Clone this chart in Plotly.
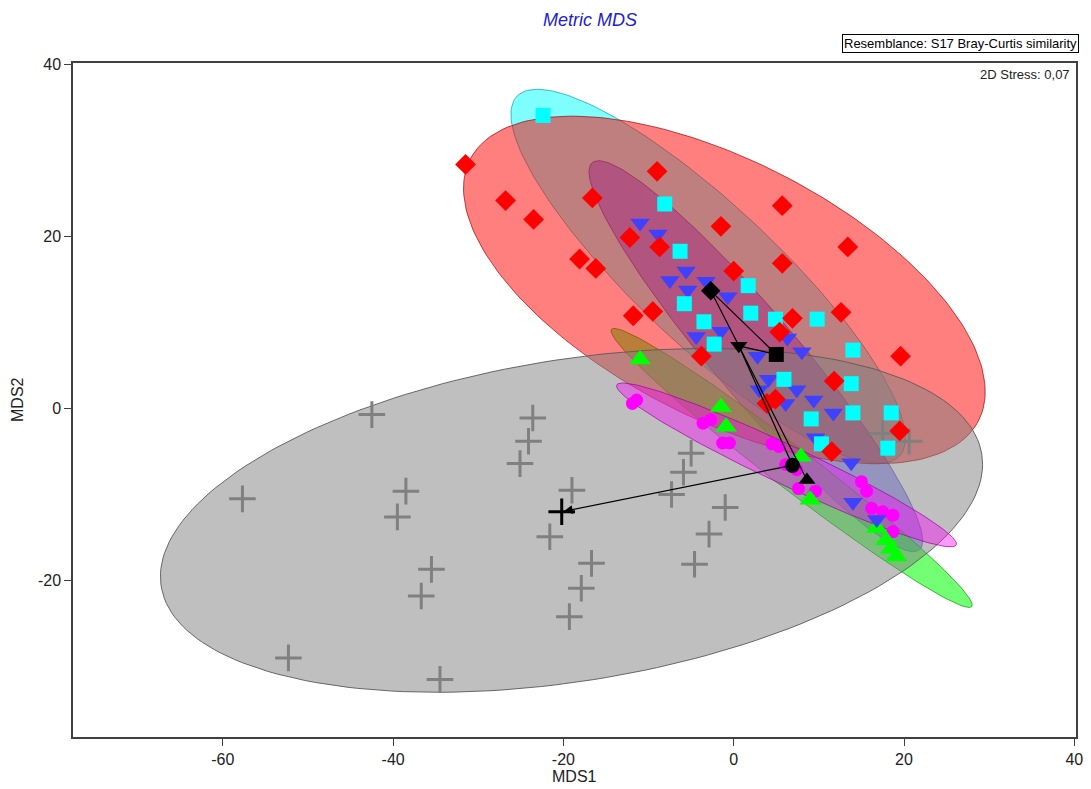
import numpy as np
import plotly.graph_objects as go

# ---------------- data ----------------
gray_x = [-42.5, -57.7, -38.5, -39.5, -23.6, -24.1, -25.1, -19.0, -21.6, -16.7, -17.9, -19.3,
          -35.5, -36.7, -52.3, -34.5, -5.0, -5.9, -7.3, -1.0, -2.9, -4.6, 17.5, 20.6]
gray_y = [-0.7, -10.5, -9.6, -12.6, -1.1, -3.8, -6.4, -9.5, -14.9, -18.0, -20.9, -24.2,
          -18.7, -21.8, -29.0, -31.5, -5.2, -7.4, -10.0, -11.5, -14.6, -18.1, -2.9, -3.8]

red_x = [-31.5, -26.8, -23.5, -9.0, -16.6, 5.7, -1.5, -12.2, -8.7, 13.4, -18.1, -16.2, 5.7,
         0.0, -11.8, -9.5, 12.6, 6.9, 5.4, -3.8, 19.6, 11.8, 4.9, 3.9, 11.5, 19.5]
red_y = [28.4, 24.2, 22.0, 27.6, 24.5, 23.6, 21.2, 19.9, 18.8, 18.8, 17.4, 16.3, 16.9,
         16.0, 10.8, 11.3, 11.2, 10.5, 8.9, 6.1, 6.1, 3.2, 1.1, 0.6, -5.0, -2.6]

cyan_x = [-22.4, -8.1, -6.3, 1.7, -5.8, 2.0, 4.9, 9.8, -3.5, -2.3, 14.0, 5.9, 13.8, 9.1,
          14.0, 18.5, 10.3, 18.1]
cyan_y = [34.1, 23.8, 18.3, 14.3, 12.2, 11.1, 10.4, 10.4, 10.1, 7.5, 6.8, 3.4, 2.9, -1.2,
          -0.5, -0.5, -4.1, -4.6]

blue_x = [-11.0, -8.9, -5.6, -7.5, -3.25, -5.4, -0.7, -1.5, -4.4, 2.8, 8.0, 6.3, 4.1, 7.4,
          3.0, 6.1, 9.4, 11.7, 9.6, 13.8, 14.0, 16.8]
blue_y = [21.6, 20.3, 16.0, 14.9, 14.8, 13.8, 13.0, 9.0, 8.4, 6.1, 6.6, 8.2, 3.4, 2.2,
          2.2, 0.6, 1.0, -0.5, -3.4, -6.3, -10.9, -12.9]

magenta_x = [-11.4, -11.9, -3.6, -2.7, -1.3, -0.5, 4.5, 5.3, 6.1, 7.4, 7.6, 9.6, 15.0,
             15.6, 16.2, 17.5, 18.7, 18.7]
magenta_y = [1.0, 0.6, -1.7, -1.3, -4.0, -4.0, -4.1, -4.4, -6.5, -7.1, -9.3, -9.6, -8.5,
             -9.6, -11.6, -12.0, -12.4, -14.3]

green_x = [-11.0, -1.5, -0.9, 7.9, 9.0, 16.8, 17.9, 19.1, 18.5]
green_y = [5.7, 0.2, -2.1, -5.6, -10.6, -13.9, -15.3, -17.2, -16.3]

# group centroids: diamond, square, triangle-down, circle, triangle-up, cross
cent_x = [-2.7, 5.0, 0.6, 6.9, 8.6, -20.2]
cent_y = [13.7, 6.3, 7.3, -6.6, -8.3, -12.0]
cent_symbols = ["diamond", "square", "triangle-down", "circle", "triangle-up", "cross-thin"]

# segments between centroids (index pairs)
seg_from = [0, 0, 2, 2, 2]
seg_to = [1, 2, 1, 3, 4]

# ellipses (drawing order): centre x, centre y, semi-major, semi-minor, angle (deg)
ell_names = ["cyan", "blue", "green", "red", "gray", "magenta"]
ell_cx = [-3.0, 2.6, 6.8, -1.1, -19.05, 6.2]
ell_cy = [15.4, 6.1, -6.9, 13.8, -13.0, -6.55]
ell_a = [30.7, 29.6, 26.6, 33.5, 48.8, 22.0]
ell_b = [8.2, 5.0, 2.4, 15.0, 18.7, 2.3]
ell_ang = [-42.9, -49.5, -37.3, -26.9, 9.05, -25.0]
ell_fill = ["rgba(0,255,255,0.5)", "rgba(64,64,255,0.45)", "rgba(0,255,0,0.55)",
            "rgba(255,0,0,0.5)", "rgba(128,128,128,0.5)", "rgba(255,0,255,0.4)"]
ell_line = ["rgba(0,160,160,0.7)", "rgba(40,40,160,0.6)", "rgba(0,150,0,0.7)",
            "rgba(160,0,0,0.7)", "rgba(90,90,90,0.9)", "rgba(160,0,160,0.7)"]

x_ticks = [-60, -40, -20, 0, 20, 40]
x_tick_text = ["-60", "-40", "-20", "0", "20", "40"]
y_ticks = [-20, 0, 20, 40]
y_tick_text = ["-20", "0", "20", "40"]

FONT = "Liberation Sans, Arial, sans-serif"

fig = go.Figure()

t = np.linspace(0, 2 * np.pi, 200)
for i in range(len(ell_names)):
    th = np.deg2rad(ell_ang[i])
    ex = ell_cx[i] + ell_a[i] * np.cos(t) * np.cos(th) - ell_b[i] * np.sin(t) * np.sin(th)
    ey = ell_cy[i] + ell_a[i] * np.cos(t) * np.sin(th) + ell_b[i] * np.sin(t) * np.cos(th)
    fig.add_trace(go.Scatter(x=ex, y=ey, mode="lines", fill="toself",
                             fillcolor=ell_fill[i], line=dict(color=ell_line[i], width=1),
                             hoverinfo="skip", showlegend=False))

fig.add_trace(go.Scatter(x=gray_x, y=gray_y, mode="markers", showlegend=False,
                         marker=dict(symbol="cross-thin", size=19,
                                     line=dict(color="#808080", width=3))))
fig.add_trace(go.Scatter(x=magenta_x, y=magenta_y, mode="markers", showlegend=False,
                         marker=dict(symbol="circle", size=13, color="#ff00ff",
                                     line=dict(width=0))))
fig.add_trace(go.Scatter(x=green_x, y=green_y, mode="markers", showlegend=False,
                         marker=dict(symbol="triangle-up", size=19, color="#00ff00",
                                     line=dict(width=0))))
fig.add_trace(go.Scatter(x=blue_x, y=blue_y, mode="markers", showlegend=False,
                         marker=dict(symbol="triangle-down", size=17, color="#4040ff",
                                     line=dict(width=0))))
fig.add_trace(go.Scatter(x=cyan_x, y=cyan_y, mode="markers", showlegend=False,
                         marker=dict(symbol="square", size=15, color="#00ffff",
                                     line=dict(width=0))))
fig.add_trace(go.Scatter(x=red_x, y=red_y, mode="markers", showlegend=False,
                         marker=dict(symbol="diamond", size=16, color="#ff0000",
                                     line=dict(width=0))))

# centroid connections
for f, tt in zip(seg_from, seg_to):
    fig.add_trace(go.Scatter(x=[cent_x[f], cent_x[tt]], y=[cent_y[f], cent_y[tt]],
                             mode="lines", line=dict(color="black", width=1.2),
                             hoverinfo="skip", showlegend=False))

# arrow from circle centroid to cross centroid
fig.add_annotation(x=cent_x[5], y=cent_y[5], ax=cent_x[3], ay=cent_y[3],
                   xref="x", yref="y", axref="x", ayref="y", text="",
                   showarrow=True, arrowhead=2, arrowsize=1.5, arrowwidth=1.2,
                   arrowcolor="black", standoff=2)

for i, sym in enumerate(cent_symbols):
    if sym == "cross-thin":
        mk = dict(symbol=sym, size=19, line=dict(color="black", width=3))
    else:
        mk = dict(symbol=sym, size=15, color="black", line=dict(width=0))
    fig.add_trace(go.Scatter(x=[cent_x[i]], y=[cent_y[i]], mode="markers",
                             marker=mk, showlegend=False))

axis_common = dict(showgrid=False, zeroline=False, showline=True, mirror=True,
                   linecolor="#404040", linewidth=1.5, ticks="outside", ticklen=7,
                   tickwidth=1, tickcolor="#404040",
                   tickfont=dict(family=FONT, size=16, color="#222"))

# the page body has an 8px default margin, so the figure is sized to fit the window
fig.update_layout(
    width=1083, height=781,
    margin=dict(l=65, r=8, t=55, b=52),
    paper_bgcolor="white", plot_bgcolor="white",
    font=dict(family=FONT),
    xaxis=dict(range=[-77.6, 40.2], tickvals=x_ticks, ticktext=x_tick_text, **axis_common),
    yaxis=dict(range=[-38.2, 40.2], tickvals=y_ticks, ticktext=y_tick_text, **axis_common),
)

fig.add_annotation(text="<i>Metric MDS</i>", xref="paper", yref="paper", x=0.515, y=1.0,
                   yshift=43, showarrow=False, yanchor="middle",
                   font=dict(family=FONT, size=18, color="#2222cc"))
fig.add_annotation(text="Resemblance: S17 Bray-Curtis similarity", xref="paper", yref="paper",
                   x=1.0, y=1.0, xanchor="right", yanchor="middle", yshift=20, xshift=3,
                   showarrow=False, bordercolor="black", borderwidth=1, borderpad=1,
                   font=dict(family=FONT, size=13, color="black"))
fig.add_annotation(text="2D Stress: 0,07", xref="paper", yref="paper", x=1.0, y=1.0,
                   xanchor="right", yanchor="middle", xshift=-4, yshift=-11,
                   showarrow=False, font=dict(family=FONT, size=13, color="#222"))
fig.add_annotation(text="MDS1", xref="paper", yref="paper", x=0.5, y=0.0, yshift=-39,
                   yanchor="middle", showarrow=False,
                   font=dict(family=FONT, size=16, color="#222"))
fig.add_annotation(text="MDS2", xref="paper", yref="paper", x=0.0, y=0.5, xshift=-56,
                   xanchor="center", yanchor="middle", textangle=-90, showarrow=False,
                   font=dict(family=FONT, size=16, color="#222"))

fig.write_html("out.html")
